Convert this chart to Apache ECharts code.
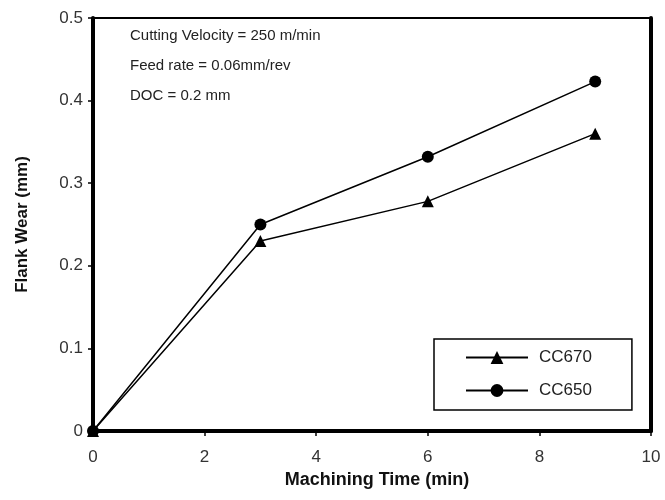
<!DOCTYPE html>
<html>
<head>
<meta charset="utf-8">
<script src="https://cdn.jsdelivr.net/npm/echarts@6/dist/echarts.min.js"></script>
<style>
  html, body { margin: 0; padding: 0; background: #fff; }
  #container { width: 665px; height: 500px; }
</style>
</head>
<body>
<div id="container"></div>
<script type="text/javascript">
    // 数据
    var times = [0, 3, 6, 9];
    var cc670 = [0, 0.23, 0.278, 0.36];
    var cc650 = [0, 0.25, 0.332, 0.423];
    var notes = ['Cutting Velocity = 250 m/min', 'Feed rate = 0.06mm/rev', 'DOC = 0.2 mm'];

    function pairs(xs, ys) {
        var out = [];
        for (var i = 0; i < xs.length; i++) {
            out.push([xs[i], ys[i]]);
        }
        return out;
    }

    var font = 'Liberation Sans, Arial, sans-serif';
    var mychart = echarts.init(document.getElementById('container'));

    var texts = [];
    for (var i = 0; i < notes.length; i++) {
        texts.push({
            type: 'text', left: 130, top: 28 + i * 30,
            style: { text: notes[i], font: '15px ' + font, fill: '#222' }
        });
    }

    var options = {
        backgroundColor: '#fff',
        animation: false,
        grid: { left: 93, right: 14, top: 18, bottom: 69 },
        graphic: texts,
        legend: {
            orient: 'vertical',
            left: 434, top: 339,
            padding: [10, 40, 11, 31],
            itemWidth: 62, itemHeight: 16, itemGap: 16,
            borderColor: '#000', borderWidth: 1.5,
            textStyle: { fontFamily: font, fontSize: 17, color: '#222', padding: [0, 0, 0, 6] },
            data: ['CC670', 'CC650']
        },
        xAxis: [{
            type: 'value', min: 0, max: 10, interval: 2,
            name: 'Machining Time (min)', nameLocation: 'middle', nameGap: 40,
            nameTextStyle: { fontFamily: font, fontSize: 18, fontWeight: 'bold', color: '#111', padding: [0, 0, 0, 10] },
            axisLine: { lineStyle: { color: '#000', width: 4 } },
            axisTick: { inside: false, length: 5, lineStyle: { color: '#000', width: 1.5 } },
            axisLabel: { fontFamily: font, fontSize: 17, color: '#333', margin: 18 },
            splitLine: { show: false }
        }, {
            type: 'value', position: 'top', min: 0, max: 10,
            axisLine: { show: true, onZero: false, lineStyle: { color: '#000', width: 2 } },
            axisTick: { show: false }, axisLabel: { show: false }, splitLine: { show: false }
        }],
        yAxis: [{
            type: 'value', min: 0, max: 0.5, interval: 0.1,
            name: 'Flank Wear (mm)', nameLocation: 'middle', nameGap: 62,
            nameTextStyle: { fontFamily: font, fontSize: 17, fontWeight: 'bold', color: '#111' },
            axisLine: { show: true, lineStyle: { color: '#000', width: 4 } },
            axisTick: { show: true, length: 5, lineStyle: { color: '#000', width: 1.5 } },
            axisLabel: {
                fontFamily: font, fontSize: 17, color: '#333', margin: 10,
                formatter: function (v) { return v === 0 ? '0' : v.toFixed(1); }
            },
            splitLine: { show: false }
        }, {
            type: 'value', position: 'right', min: 0, max: 0.5,
            axisLine: { show: true, onZero: false, lineStyle: { color: '#000', width: 4 } },
            axisTick: { show: false }, axisLabel: { show: false }, splitLine: { show: false }
        }],
        series: [{
            name: 'CC670', type: 'line', symbol: 'triangle', symbolSize: 12,
            data: pairs(times, cc670),
            lineStyle: { color: '#000', width: 1.5 },
            itemStyle: { color: '#000' }
        }, {
            name: 'CC650', type: 'line', symbol: 'circle', symbolSize: 12,
            data: pairs(times, cc650),
            lineStyle: { color: '#000', width: 1.5 },
            itemStyle: { color: '#000' }
        }]
    };

    mychart.setOption(options);
</script>
</body>
</html>
